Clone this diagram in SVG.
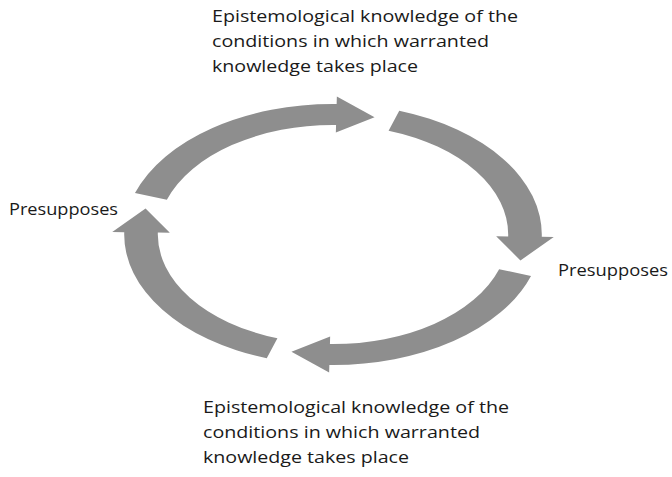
<svg xmlns="http://www.w3.org/2000/svg" xmlns:xlink="http://www.w3.org/1999/xlink" width="672" height="477" viewBox="0 0 672 477">
<style>
.lbl{font-family:"Open Sans","Noto Sans","Liberation Sans",sans-serif;font-size:17px;fill:#1a1a1a}
.arr{fill:#8e8e8e}
</style>
<defs>
<path id="carrow" d="M -123.76 -41.41 A 130.5 130.5 0 0 1 2.28 -130.48 L 2.41 -137.98 L 25.97 -117.16 L 1.78 -101.98 L 1.91 -109.48 A 109.5 109.5 0 0 0 -103.84 -34.74 Z"/>
</defs>
<rect width="672" height="477" fill="#ffffff"/>
<g id="connectors" class="arr">
<use xlink:href="#carrow" transform="translate(333,234.5) scale(1.6,1) rotate(0)"/>
<use xlink:href="#carrow" transform="translate(333,234.5) scale(1.6,1) rotate(90)"/>
<use xlink:href="#carrow" transform="translate(333,234.5) scale(1.6,1) rotate(180)"/>
<use xlink:href="#carrow" transform="translate(333,234.5) scale(1.6,1) rotate(270)"/>
</g>
<g id="top-node">
<text class="lbl" x="212" y="22" textLength="306" lengthAdjust="spacingAndGlyphs">Epistemological knowledge of the</text>
<text class="lbl" x="212" y="47" textLength="277" lengthAdjust="spacingAndGlyphs">conditions in which warranted</text>
<text class="lbl" x="212" y="72" textLength="206" lengthAdjust="spacingAndGlyphs">knowledge takes place</text>
</g>
<g id="right-node">
<text class="lbl" x="558" y="276" textLength="110" lengthAdjust="spacingAndGlyphs">Presupposes</text>
</g>
<g id="bottom-node">
<text class="lbl" x="203" y="413" textLength="306" lengthAdjust="spacingAndGlyphs">Epistemological knowledge of the</text>
<text class="lbl" x="203" y="438" textLength="277" lengthAdjust="spacingAndGlyphs">conditions in which warranted</text>
<text class="lbl" x="203" y="463" textLength="206" lengthAdjust="spacingAndGlyphs">knowledge takes place</text>
</g>
<g id="left-node">
<text class="lbl" x="9" y="215" textLength="109" lengthAdjust="spacingAndGlyphs">Presupposes</text>
</g>
</svg>
